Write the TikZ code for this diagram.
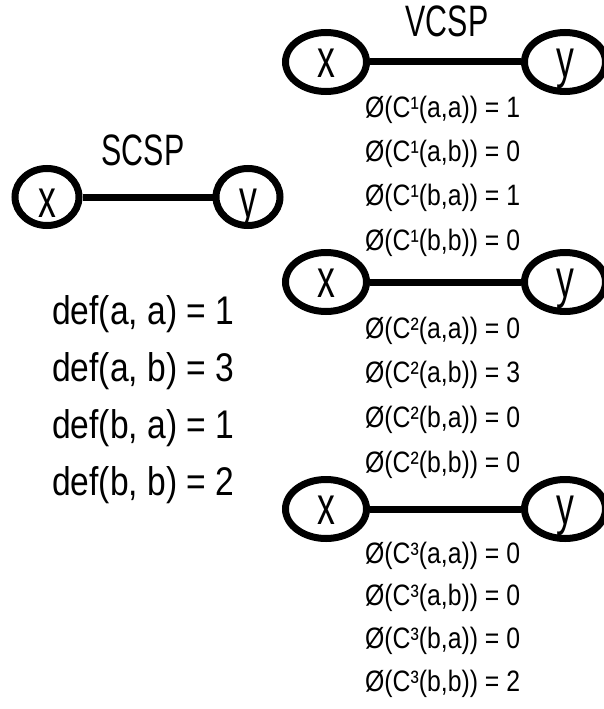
\documentclass[tikz,border=0pt]{standalone}
\usepackage{fontspec}
\setmainfont{Liberation Sans}[FakeStretch=0.84]
\newfontfamily\varfont{Liberation Sans}[FakeStretch=0.66]
\newfontfamily\titlefont{Liberation Sans}[FakeStretch=0.69]
\usetikzlibrary{shapes.geometric}

\tikzset{
  var/.style={ellipse, draw, line width=7pt, inner sep=0pt,
    text height=28pt, text depth=11pt,
    font=\varfont\fontsize{54pt}{60pt}\selectfont},
  svar/.style={var, minimum width=64pt, minimum height=57pt},
  vvar/.style={var, minimum width=81pt, minimum height=59pt},
  con/.style={line width=7pt},
  title/.style={anchor=base, inner sep=0pt,
    font=\titlefont\fontsize{44pt}{50pt}\selectfont},
  deftext/.style={anchor=base west, inner sep=0pt,
    font=\fontsize{40pt}{48pt}\selectfont},
  cost/.style={anchor=base west, inner sep=0pt,
    font=\fontsize{29.5pt}{36pt}\selectfont},
}

\begin{document}
\begin{tikzpicture}[x=1pt,y=-1pt]
    \useasboundingbox (0,0) rectangle (603,709);

    % SCSP: one constraint between x and y
    \node[title] (scsp) at (143,165) {SCSP};
    \node[svar] (sx) at (47,197) {\raisebox{-11.5pt}{x}};
    \node[svar] (sy) at (248,197) {\raisebox{-11.5pt}{y}};
    \draw[con] (sx) -- (sy);

    % the cost function def
    \node[deftext] (d1) at (52,324) {def(a, a) = 1};
    \node[deftext] (d2) at (52,381) {def(a, b) = 3};
    \node[deftext] (d3) at (52,438) {def(b, a) = 1};
    \node[deftext] (d4) at (52,495) {def(b, b) = 2};

    % VCSP: three constraints between x and y
    \node[title] (vcsp) at (447,37) {VCSP};
    \foreach \k/\yy in {1/62, 2/282, 3/509} {
        \node[vvar] (vx\k) at (326,\yy) {\raisebox{-6.5pt}{x}};
        \node[vvar] (vy\k) at (565,\yy) {\raisebox{-6.5pt}{y}};
        \draw[con] (vx\k) -- (vy\k);
    }

    % costs of C1
    \node[cost] (c1aa) at (365,117) {Ø(C¹(a,a)) = 1};
    \node[cost] (c1ab) at (365,161) {Ø(C¹(a,b)) = 0};
    \node[cost] (c1ba) at (365,205) {Ø(C¹(b,a)) = 1};
    \node[cost] (c1bb) at (365,250) {Ø(C¹(b,b)) = 0};

    % costs of C2
    \node[cost] (c2aa) at (365,338) {Ø(C²(a,a)) = 0};
    \node[cost] (c2ab) at (365,382) {Ø(C²(a,b)) = 3};
    \node[cost] (c2ba) at (365,427) {Ø(C²(b,a)) = 0};
    \node[cost] (c2bb) at (365,472) {Ø(C²(b,b)) = 0};

    % costs of C3
    \node[cost] (c3aa) at (365,563) {Ø(C³(a,a)) = 0};
    \node[cost] (c3ab) at (365,605) {Ø(C³(a,b)) = 0};
    \node[cost] (c3ba) at (365,648) {Ø(C³(b,a)) = 0};
    \node[cost] (c3bb) at (365,691) {Ø(C³(b,b)) = 2};
\end{tikzpicture}
\end{document}
